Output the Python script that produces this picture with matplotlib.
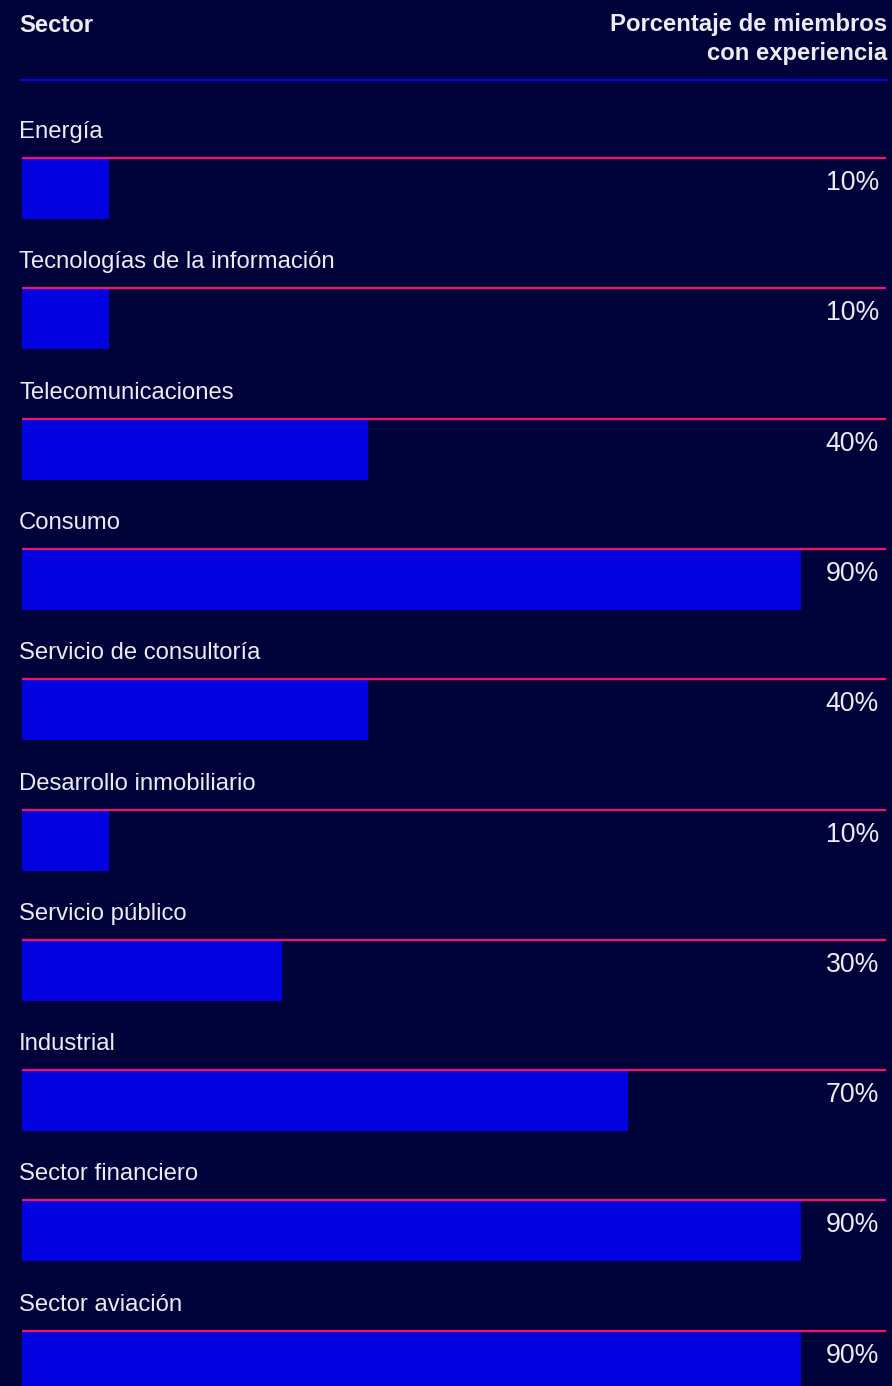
import matplotlib.pyplot as plt

sectors = ["Energía", "Tecnologías de la información", "Telecomunicaciones",
           "Consumo", "Servicio de consultoría", "Desarrollo inmobiliario",
           "Servicio público", "Industrial", "Sector financiero",
           "Sector aviación"]
values = [10, 10, 40, 90, 40, 10, 30, 70, 90, 90]
head_left = "Sector"
head_right = "Porcentaje de miembros\ncon experiencia"

bg = "#00023a"
bar_c = "#0202e0"
pink = "#f5106c"
txt = "#ebebf0"

plt.rcParams['font.family'] = ['Liberation Sans', 'DejaVu Sans']

W, H = 892, 1386
fig = plt.figure(figsize=(W/100, H/100), dpi=100, facecolor=bg)
# x axis: 0..100 % spread over the bar area, y axis in pixel rows from top
ax = fig.add_axes([22/W, 0, 866/W, 1])
ax.set_facecolor(bg)
ax.set_xlim(0, 100)
ax.set_ylim(H, 0)
ax.axis('off')

px = 100/866.0  # one pixel in x data units
top = 158
step = 130.3
bar_h = 60

# header
ax.text(-3*px, 25, head_left, color=txt, fontsize=17.2, fontweight='bold',
        ha='left', va='center', clip_on=False)
ax.text(100 - px, 39, head_right, color=txt, fontsize=17.2, fontweight='bold',
        ha='right', va='center', linespacing=1.35, clip_on=False)
ax.plot([-3*px, 100], [80, 80], color=bar_c, lw=1.6,
        solid_capstyle='butt', clip_on=False)

for i, (name, v) in enumerate(zip(sectors, values)):
    y = top + i*step
    ax.barh(y + 1 + bar_h/2, v, height=bar_h, left=0, color=bar_c)
    ax.plot([0, 100 - 2*px], [y, y], color=pink, lw=1.6, solid_capstyle='butt')
    ax.text(-3*px, y - 26, name, color=txt, fontsize=17.2,
            ha='left', va='center', clip_on=False)
    ax.text(100 - 9*px, y + 25, f"{v}%", color=txt, fontsize=19.2,
            ha='right', va='center')

fig.savefig("out.png", dpi=100, facecolor=bg)
